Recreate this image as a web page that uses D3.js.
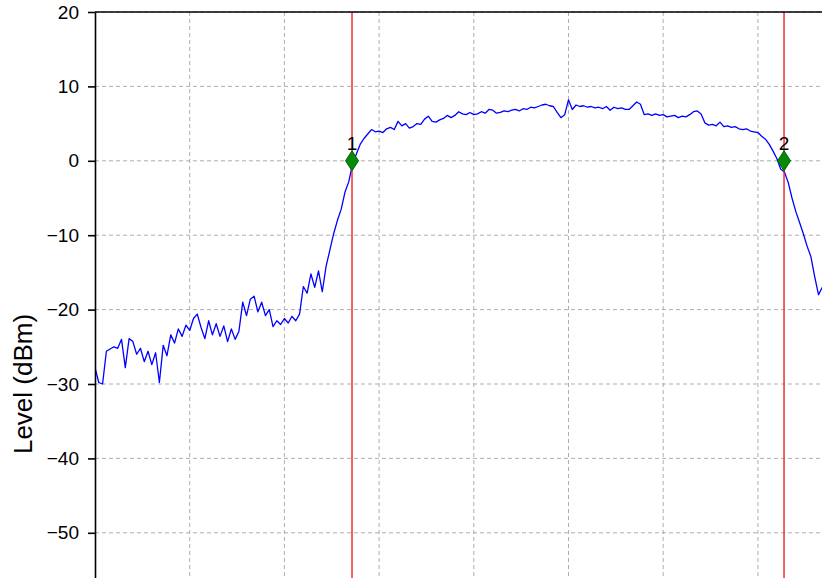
<!DOCTYPE html>
<html>
<head>
<meta charset="utf-8">
<script src="https://cdn.jsdelivr.net/npm/d3@7"></script>
<style>
	body { margin: 0; background: #fff; }
	svg { display: block; font-family: "Liberation Sans", Arial, sans-serif; }
	.grid line { stroke: #9a9a9a; stroke-width: 0.8; stroke-dasharray: 4,3; }
	.y.axis text { font-size: 19px; fill: #000; }
	.y.axis line, .y.axis path { stroke: #000; stroke-width: 1.6; }
</style>
</head>
<body>
<svg id="chart" width="822" height="578"></svg>
<script>
// trace: one level per sample, sampled every freqStep divisions from freqStart
const freqStart = 0;
const freqStep = 0.04;
const levels = [
	-27.8, -29.8, -30.0, -25.6, -25.3, -25.0, -25.2, -24.0, -27.8, -23.9,
	-24.3, -26.0, -25.2, -27.0, -25.6, -27.4, -25.8, -29.8, -24.8, -26.2,
	-23.4, -24.5, -22.6, -23.6, -22.1, -22.8, -21.2, -20.6, -22.4, -23.9,
	-21.5, -23.4, -21.9, -23.6, -22.2, -24.3, -22.6, -24.0, -22.9, -19.0,
	-20.8, -18.6, -18.2, -20.3, -19.0, -20.8, -20.0, -22.3, -21.5, -22.0,
	-21.2, -21.8, -20.9, -21.5, -20.6, -16.9, -17.8, -15.2, -17.0, -14.8,
	-17.6, -14.2, -12.0, -9.8, -8.0, -6.5, -4.2, -2.8, -0.4, 0.9,
	2.2, 3.0, 3.6, 4.2, 3.9, 4.0, 3.8, 4.3, 4.5, 4.2,
	5.3, 4.7, 5.0, 4.4, 4.6, 5.0, 4.9, 5.6, 6.0, 5.3,
	5.2, 5.5, 5.7, 6.1, 5.8, 6.1, 6.6, 6.3, 6.2, 6.5,
	6.2, 6.3, 6.6, 6.4, 6.9, 6.8, 6.4, 6.5, 6.7, 6.6,
	6.8, 6.9, 6.7, 7.0, 6.9, 7.2, 7.1, 7.3, 7.5, 7.6,
	7.4, 7.3, 6.5, 5.8, 6.2, 8.2, 6.9, 7.5, 7.3, 7.4,
	7.2, 7.3, 7.1, 7.2, 7.0, 7.3, 6.8, 7.2, 7.0, 7.1,
	6.9, 6.9, 7.4, 7.9, 7.6, 6.2, 6.3, 6.1, 6.3, 6.1,
	6.2, 5.9, 6.0, 6.1, 5.8, 6.0, 5.9, 6.2, 6.6, 6.7,
	6.3, 5.1, 4.8, 4.9, 4.7, 5.2, 4.6, 4.7, 4.5, 4.6,
	4.3, 4.2, 4.3, 4.0, 3.9, 3.8, 3.3, 2.9, 2.2, 1.3,
	0.3, -1.1, -1.5, -2.9, -5.0, -6.8, -8.3, -9.8, -11.5, -12.9,
	-15.6, -18.0, -17.0, -18.5
];
const markerNames = ["1", "2"];
const markerFreqs = [2.714, 7.276];
const markerLevels = [0, 0];
const yTicks = [20, 10, 0, -10, -20, -30, -40, -50];
const xGrid = [1, 2, 3, 4, 5, 6, 7, 8, 9, 10];

const spectrum = (svg_name) => {
	let chart = d3.select(svg_name);
	let margin = {left: 95, top: 12};
	let plot_width = 947;
	let plot_height = 744;

	let x = d3.scaleLinear()
						.domain([0, 10])
						.range([margin.left, margin.left + plot_width]);
	let y = d3.scaleLinear()
						.domain([-80, 20])
						.range([margin.top + plot_height, margin.top]);

	let data = levels.map((v, i) => ({freq: freqStart + i * freqStep, level: v}));

	chart.append("defs").append("clipPath")
				.attr("id", "plot-clip")
				.append("rect")
				.attr("x", margin.left)
				.attr("y", margin.top)
				.attr("width", plot_width)
				.attr("height", plot_height);

	addGrid(chart, x, y, margin, plot_width, plot_height);
	addTrace(chart, data, x, y);
	addMarkers(chart, x, y, margin, plot_height);
	addAxis(chart, y, margin, plot_width, plot_height);
}

const addGrid = (chart, x, y, margin, width, height) => {
	let grid = chart.append("g").attr("class", "grid");
	grid.selectAll(".hgrid")
			.data(yTicks)
			.enter().append("line")
			.attr("x1", margin.left)
			.attr("x2", margin.left + width)
			.attr("y1", (d) => y(d))
			.attr("y2", (d) => y(d));
	grid.selectAll(".vgrid")
			.data(xGrid)
			.enter().append("line")
			.attr("x1", (d) => x(d))
			.attr("x2", (d) => x(d))
			.attr("y1", margin.top)
			.attr("y2", margin.top + height);
}

const addTrace = (chart, data, x, y) => {
	let valueLine = d3.line()
										.x((d) => x(d.freq))
										.y((d) => y(d.level));
	chart.append("path")
				.datum(data)
				.attr("clip-path", "url(#plot-clip)")
				.style("fill", "none")
				.style("stroke", "#0000ff")
				.style("stroke-width", 1.3)
				.style("stroke-linejoin", "round")
				.attr("d", valueLine);
}

const addMarkers = (chart, x, y, margin, height) => {
	let markers = markerNames.map((n, i) => ({name: n, freq: markerFreqs[i], level: markerLevels[i]}));

	chart.selectAll(".marker-line")
				.data(markers)
				.enter().append("line")
				.attr("x1", (d) => x(d.freq))
				.attr("x2", (d) => x(d.freq))
				.attr("y1", margin.top)
				.attr("y2", margin.top + height)
				.style("stroke", "#ee1111")
				.style("stroke-width", 1.3);

	chart.selectAll(".marker")
				.data(markers)
				.enter().append("path")
				.attr("transform", (d) => `translate(${x(d.freq)},${y(d.level)})`)
				.attr("d", "M0,-10L6.5,0L0,10L-6.5,0Z")
				.style("fill", "#078a07")
				.style("stroke", "#006400")
				.style("stroke-width", 1);

	chart.selectAll(".marker-label")
				.data(markers)
				.enter().append("text")
				.attr("x", (d) => x(d.freq))
				.attr("y", (d) => y(d.level) - 11)
				.style("text-anchor", "middle")
				.style("font-size", "19px")
				.style("fill", "#000")
				.text((d) => d.name);
}

const addAxis = (chart, y, margin, width, height) => {
	let y_axis = d3.axisLeft(y).tickValues(yTicks).tickSize(7).tickSizeOuter(0).tickPadding(9);
	chart.append("g")
				.attr("class", "y axis")
				.attr("transform", `translate(${margin.left},0)`)
				.call(y_axis);
	chart.append("line")
				.attr("x1", margin.left)
				.attr("x2", margin.left + width)
				.attr("y1", margin.top)
				.attr("y2", margin.top)
				.style("stroke", "#000")
				.style("stroke-width", 1.6);
	chart.append("text")
				.attr("transform", `translate(32,${margin.top + height / 2}) rotate(-90)`)
				.style("text-anchor", "middle")
				.style("font-size", "26px")
				.style("fill", "#000")
				.text("Level (dBm)");
}

spectrum("#chart");
</script>
</body>
</html>
